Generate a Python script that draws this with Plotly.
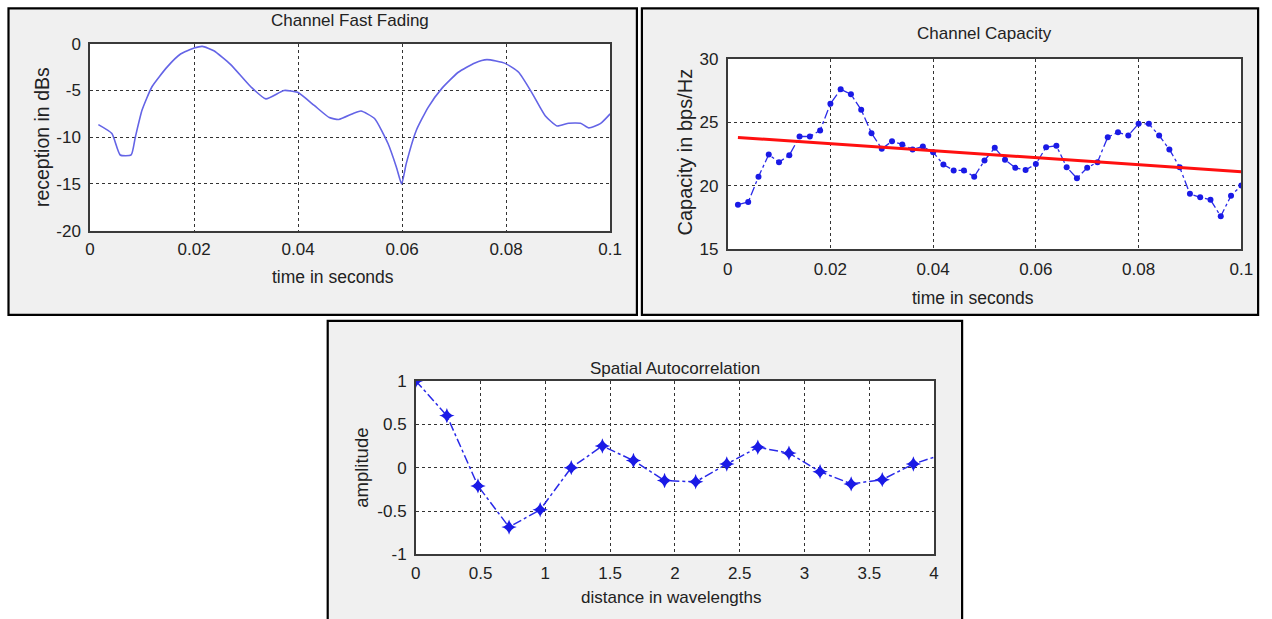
import plotly.graph_objects as go

W, H = 1272, 619

# ---------------- data ----------------
# Chart 1: Channel Fast Fading
fade_t = [0.0016, 0.0042, 0.0058, 0.0079, 0.0087, 0.0100, 0.0119, 0.0148, 0.0174, 0.0200,
          0.0216, 0.0238, 0.0270, 0.0309, 0.0338, 0.0373, 0.0399, 0.0431, 0.0460, 0.0478,
          0.0508, 0.0521, 0.0547, 0.0573, 0.0589, 0.0599, 0.0608, 0.0627, 0.0650, 0.0676,
          0.0708, 0.0740, 0.0763, 0.0798, 0.0824, 0.0849, 0.0875, 0.0898, 0.0920, 0.0943,
          0.0959, 0.0981, 0.1000]
fade_db = [-8.65, -9.6, -11.9, -11.9, -10.0, -7.1, -4.6, -2.5, -1.1, -0.46,
           -0.28, -0.75, -2.2, -4.6, -5.9, -5.0, -5.2, -6.6, -7.9, -8.1,
           -7.4, -7.2, -8.0, -10.7, -13.2, -15.0, -12.8, -9.3, -6.8, -4.8,
           -3.05, -2.05, -1.7, -2.1, -3.05, -5.2, -7.7, -8.8, -8.5, -8.5,
           -9.0, -8.55, -7.5]

# Chart 2: Channel Capacity
cap_t = [0.002, 0.004, 0.006, 0.008, 0.010, 0.012, 0.014, 0.016, 0.018, 0.020,
         0.022, 0.024, 0.026, 0.028, 0.030, 0.032, 0.034, 0.036, 0.038, 0.040,
         0.042, 0.044, 0.046, 0.048, 0.050, 0.052, 0.054, 0.056, 0.058, 0.060,
         0.062, 0.064, 0.066, 0.068, 0.070, 0.072, 0.074, 0.076, 0.078, 0.080,
         0.082, 0.084, 0.086, 0.088, 0.090, 0.092, 0.094, 0.096, 0.098, 0.100]
cap_val = [18.5, 18.7, 20.7, 22.45, 21.85, 22.4, 23.87, 23.87, 24.35, 26.45,
           27.6, 27.2, 25.98, 24.13, 22.9, 23.5, 23.25, 22.85, 23.08, 22.63,
           21.66, 21.2, 21.2, 20.7, 21.98, 22.98, 22.03, 21.4, 21.24, 21.7,
           23.03, 23.14, 21.45, 20.58, 21.4, 21.85, 23.82, 24.2, 23.95, 24.87,
           24.87, 23.95, 22.85, 21.45, 19.35, 19.08, 18.88, 17.58, 19.21, 20.0]
trend_t = [0.002, 0.100]
trend_val = [23.8, 21.1]

# Chart 3: Spatial Autocorrelation
dist = [0.0, 0.24, 0.48, 0.72, 0.96, 1.20, 1.44, 1.68, 1.92, 2.16,
        2.40, 2.64, 2.88, 3.12, 3.36, 3.60, 3.84, 4.08]
amp = [1.0, 0.60, -0.21, -0.685, -0.485, 0.0, 0.25, 0.082, -0.148, -0.163,
       0.042, 0.235, 0.168, -0.046, -0.187, -0.138, 0.042, 0.16]

# tick labels
t_ticks = [0, 0.02, 0.04, 0.06, 0.08, 0.1]
t_labels = ["0", "0.02", "0.04", "0.06", "0.08", "0.1"]
db_ticks = [0, -5, -10, -15, -20]
db_labels = ["0", "-5", "-10", "-15", "-20"]
cap_ticks = [15, 20, 25, 30]
cap_labels = ["15", "20", "25", "30"]
d_ticks = [0, 0.5, 1, 1.5, 2, 2.5, 3, 3.5, 4]
d_labels = ["0", "0.5", "1", "1.5", "2", "2.5", "3", "3.5", "4"]
a_ticks = [-1, -0.5, 0, 0.5, 1]
a_labels = ["-1", "-0.5", "0", "0.5", "1"]

FONT = "Liberation Sans Narrow, Arial Narrow, Liberation Sans, Arial, sans-serif"
TXT = "#222222"

# observed page -> picture mapping compensation
SX, OX = 0.986, 4.5
SY, OY = 0.968, 8.6


def px_x(px):
    return min(max((px - OX) / SX / W, -0.05), 1.05)


def px_y(py):
    return 1 - min(max((py - OY) / SY / H, -0.05), 1.05)


# plot area boxes in picture pixels: (left, top, right, bottom)
box1 = (89.5, 43.3, 609.3, 230.0)
box2 = (726.7, 58.3, 1240.0, 248.3)
box3 = (415.0, 380.0, 933.0, 553.3)

fig = go.Figure()

fig.add_trace(go.Scatter(x=fade_t, y=fade_db, mode="lines",
                         line=dict(color="#6464e6", width=1.6, shape="spline", smoothing=0.5),
                         xaxis="x", yaxis="y", showlegend=False))
fig.add_trace(go.Scatter(x=cap_t, y=cap_val, mode="lines+markers",
                         line=dict(color="#2a2ae8", width=1.3, dash="dashdot"),
                         marker=dict(color="#1a1ae6", size=6, symbol="circle"),
                         xaxis="x2", yaxis="y2", showlegend=False))
fig.add_trace(go.Scatter(x=trend_t, y=trend_val, mode="lines",
                         line=dict(color="#ff1010", width=3),
                         xaxis="x2", yaxis="y2", showlegend=False))
fig.add_trace(go.Scatter(x=dist, y=amp, mode="lines+markers",
                         line=dict(color="#2a2ae8", width=1.5, dash="dashdot"),
                         marker=dict(color="#1a1ae6", size=11, symbol="star-diamond"),
                         xaxis="x3", yaxis="y3", showlegend=False))


def axis(domain, rng, tv, tt, anchor, standoff):
    return dict(domain=domain, range=rng, tickvals=tv, ticktext=tt, anchor=anchor,
                showgrid=True, gridcolor="#333333", griddash="3px,3px", gridwidth=1.3,
                zeroline=False, showline=True, linecolor="#3a3a3a", linewidth=1.5,
                mirror=True, ticks="", ticklabelstandoff=standoff,
                tickfont=dict(family=FONT, size=17, color=TXT), fixedrange=True)


fig.update_layout(
    width=W, height=H, margin=dict(l=0, r=0, t=0, b=0),
    paper_bgcolor="white", plot_bgcolor="rgba(0,0,0,0)",
    xaxis=axis([px_x(box1[0]), px_x(box1[2])], [0, 0.1], t_ticks, t_labels, "y", 2),
    yaxis=axis([px_y(box1[3]), px_y(box1[1])], [-20, 0], db_ticks, db_labels, "x", 4),
    xaxis2=axis([px_x(box2[0]), px_x(box2[2])], [0, 0.1], t_ticks, t_labels, "y2", 4),
    yaxis2=axis([px_y(box2[3]), px_y(box2[1])], [15, 30], cap_ticks, cap_labels, "x2", 4),
    xaxis3=axis([px_x(box3[0]), px_x(box3[2])], [0, 4], d_ticks, d_labels, "y3", 2),
    yaxis3=axis([px_y(box3[3]), px_y(box3[1])], [-1, 1], a_ticks, a_labels, "x3", 4),
)

# panel frames (light gray figure background, black border)
panels = [(8, 8, 636, 314), (641, 8, 1268, 314), (327, 320, 961, 640)]
shapes = []
for (l, t, r, b) in panels:
    shapes.append(dict(type="rect", xref="paper", yref="paper",
                       x0=px_x(l), x1=min(px_x(r), 0.9985), y0=px_y(b), y1=px_y(t),
                       fillcolor="#f0f0f0", line=dict(color="black", width=2.2),
                       layer="below"))
for (l, t, r, b) in [box1, box2, box3]:
    shapes.append(dict(type="rect", xref="paper", yref="paper",
                       x0=px_x(l), x1=px_x(r), y0=px_y(b), y1=px_y(t),
                       fillcolor="white", line=dict(width=0), layer="below"))
fig.update_layout(shapes=shapes)

anns = []


def note(text, x, y, size=16, angle=0):
    anns.append(dict(text=text, xref="paper", yref="paper", x=px_x(x), y=px_y(y),
                     xanchor="center", yanchor="middle", showarrow=False,
                     textangle=angle, font=dict(family=FONT, size=size, color=TXT)))


note("Channel Fast Fading", 349, 20, 17)
note("time in seconds", 332, 276, 17.5)
note("reception in dBs", 41, 137, 19.5, -90)

note("Channel Capacity", 983, 33, 17)
note("time in seconds", 972, 297, 17.5)
note("Capacity in bps/Hz", 684, 151, 20, -90)

note("Spatial Autocorrelation", 674, 368, 17)
note("distance in wavelengths", 671, 596, 17)
note("amplitude", 360, 467, 18.5, -90)

fig.update_layout(annotations=anns)

page_fix = ("document.documentElement.style.margin='0';"
            "document.documentElement.style.overflow='hidden';"
            "document.body.style.margin='0';"
            "document.body.style.padding='0';"
            "document.body.style.overflow='hidden';")

fig.write_html("out.html", post_script=page_fix, config={"displayModeBar": False})
